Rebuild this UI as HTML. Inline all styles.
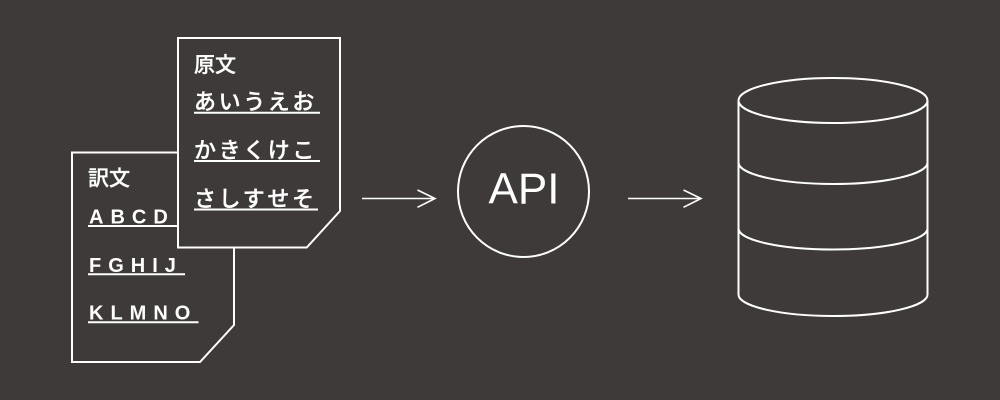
<!DOCTYPE html>
<html><head><meta charset="utf-8"><style>
html,body{margin:0;padding:0;background:#3e3a39;}
svg{display:block;}
text{fill:#fff;}
.jp{font-family:"Liberation Sans","Noto Sans CJK JP",sans-serif;font-size:21px;font-weight:500;stroke:#fff;stroke-width:0.3px;}
.hk{font-size:22px;letter-spacing:2.6px;}
.en{font-family:"Liberation Sans",sans-serif;font-size:20px;font-weight:bold;letter-spacing:7px;}
</style></head><body>
<svg width="1000" height="400" viewBox="0 0 1000 400" xmlns="http://www.w3.org/2000/svg">
<rect width="1000" height="400" fill="#3e3a39"/>
<!-- back doc -->
<polygon points="72,152.5 234,152.5 234,325 200,362 72,362" fill="#3e3a39" stroke="#fff" stroke-width="2"/>
<text class="jp" x="88" y="185.5">訳文</text>
<text class="en" x="89" y="223.5">ABCD</text>
<line x1="88" y1="226" x2="180" y2="226" stroke="#fff" stroke-width="2"/>
<text class="en" x="89" y="272">FGHIJ</text>
<line x1="88" y1="274.3" x2="185" y2="274.3" stroke="#fff" stroke-width="2"/>
<text class="en" x="89" y="319.5">KLMNO</text>
<line x1="88" y1="322.3" x2="198.5" y2="322.3" stroke="#fff" stroke-width="2"/>
<!-- front doc -->
<polygon points="178,38 340,38 340,211 306.7,247.5 178,247.5" fill="#3e3a39" stroke="#fff" stroke-width="2"/>
<text class="jp" x="194" y="72">原文</text>
<text class="jp hk" x="194" y="109.5">あいうえお</text>
<line x1="194" y1="112.7" x2="320" y2="112.7" stroke="#fff" stroke-width="2"/>
<text class="jp hk" x="194" y="158">かきくけこ</text>
<line x1="194" y1="161" x2="320" y2="161" stroke="#fff" stroke-width="2"/>
<text class="jp hk" x="194" y="206.5">さしすせそ</text>
<line x1="194" y1="209.5" x2="318" y2="209.5" stroke="#fff" stroke-width="2"/>
<!-- arrow 1 -->
<line x1="362" y1="198.5" x2="434" y2="198.5" stroke="#fff" stroke-width="1.6"/>
<polyline points="417.5,190 435,198.5 417.5,207.3" fill="none" stroke="#fff" stroke-width="1.6"/>
<!-- API circle -->
<circle cx="523.5" cy="191.5" r="65.5" fill="none" stroke="#fff" stroke-width="2"/>
<text x="524" y="203.3" text-anchor="middle" style="font-family:'Liberation Sans',sans-serif;font-size:44px;">API</text>
<!-- arrow 2 -->
<line x1="628" y1="198.5" x2="700" y2="198.5" stroke="#fff" stroke-width="1.6"/>
<polyline points="683.5,190 701,198.5 683.5,207.3" fill="none" stroke="#fff" stroke-width="1.6"/>
<!-- cylinder -->
<g fill="none" stroke="#fff" stroke-width="2">
<ellipse cx="833" cy="100.5" rx="94.5" ry="22.5"/>
<line x1="738.5" y1="100.5" x2="738.5" y2="294.5"/>
<line x1="927.5" y1="100.5" x2="927.5" y2="294.5"/>
<path d="M738.5,162.5 A94.5,21.5 0 0 0 927.5,162.5"/>
<path d="M738.5,228.5 A94.5,21 0 0 0 927.5,228.5"/>
<path d="M738.5,294.5 A94.5,21.5 0 0 0 927.5,294.5"/>
</g>
</svg>
</body></html>
